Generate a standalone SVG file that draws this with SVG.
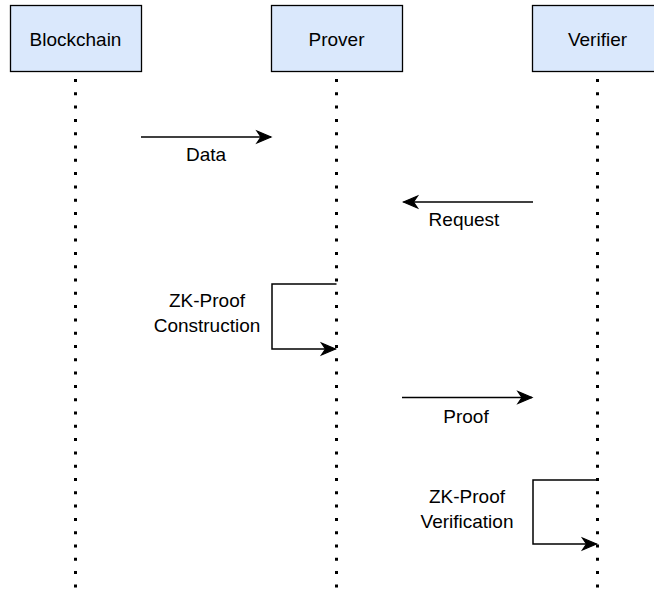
<svg xmlns="http://www.w3.org/2000/svg" width="654" height="597" viewBox="0 0 654 597">
  <style>
    .box { fill: #dae8fc; stroke: #000; stroke-width: 1.3; }
    .life { stroke: #000; stroke-width: 3; stroke-dasharray: 3 10.3; fill: none; }
    .msg { stroke: #000; stroke-width: 1.5; fill: none; marker-end: url(#arrow); }
    text { font-family: "Liberation Sans", Arial, Helvetica, sans-serif; font-size: 19px; fill: #000; text-anchor: middle; }
  </style>
  <defs>
    <marker id="arrow" markerUnits="userSpaceOnUse" markerWidth="20" markerHeight="18" refX="15" refY="8" orient="auto" overflow="visible">
      <path d="M1,2 L15,8 L1,14 L5,8 Z" fill="#000" stroke="#000" stroke-width="1.2" stroke-linejoin="miter"/>
    </marker>
  </defs>
  <rect width="654" height="597" fill="#fff"/>

  <g id="blockchain">
    <rect class="box" x="10.5" y="5.5" width="131" height="66"/>
    <text x="75.5" y="46">Blockchain</text>
  </g>
  <g id="prover">
    <rect class="box" x="271.5" y="5.5" width="131" height="66"/>
    <text x="336.5" y="46">Prover</text>
  </g>
  <g id="verifier">
    <rect class="box" x="532.5" y="5.5" width="131" height="66"/>
    <text x="597.5" y="46">Verifier</text>
  </g>

  <g id="lifelines">
    <line class="life" x1="75.5" y1="79" x2="75.5" y2="593"/>
    <line class="life" x1="336.5" y1="79" x2="336.5" y2="593"/>
    <line class="life" x1="597.5" y1="79" x2="597.5" y2="593"/>
  </g>

  <g id="connectors">
    <line class="msg" x1="141" y1="137" x2="271" y2="137"/>
    <line class="msg" x1="533" y1="202" x2="403.5" y2="202"/>
    <polyline class="msg" points="336.5,284 272,284 272,349 335.5,349"/>
    <line class="msg" x1="402" y1="397.5" x2="532" y2="397.5"/>
    <polyline class="msg" points="597.5,480 533,480 533,544 596.5,544"/>
  </g>

  <g id="labels">
    <text x="206" y="161">Data</text>
    <text x="464" y="226">Request</text>
    <text x="207" y="307">ZK-Proof</text>
    <text x="207" y="332">Construction</text>
    <text x="466" y="423">Proof</text>
    <text x="467" y="503">ZK-Proof</text>
    <text x="467" y="528">Verification</text>
  </g>
</svg>
